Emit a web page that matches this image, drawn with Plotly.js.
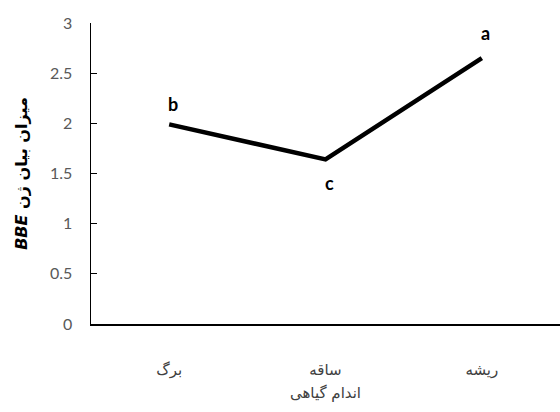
<!DOCTYPE html>
<html>
<head>
<meta charset="utf-8">
<script src="https://cdn.plot.ly/plotly-3.0.1.min.js"></script>
<style>
body{margin:0;padding:0;background:#fff;}
#graph{width:560px;height:412px;}
</style>
</head>
<body>
<div id="graph"></div>
<script>
// données
var organes = ['برگ', 'ساقه', 'ریشه'];
var expression = [1.99, 1.64, 2.65];
var lettres = ['b', 'c', 'a'];
var decalageLettres = [20, -24, 25];// au-dessus (+) ou au-dessous (-) du point
var ticksY = [0, 0.5, 1, 1.5, 2, 2.5, 3];

var data = [{
	x: organes,
	y: expression,
	mode: 'lines',
	line: {color: '#000', width: 4.5},
	hoverinfo: 'none'
}];

// lettres de signification placées sur les points
var annotations = lettres.map(function(l, i) {
	return {
		x: organes[i],
		y: expression[i],
		xref: 'x', yref: 'y',
		text: l,
		showarrow: false,
		xshift: 4,
		yshift: decalageLettres[i],
		font: {family: 'Lato, "Liberation Sans", sans-serif', size: 18, color: '#000', weight: 'bold'}
	};
});

var layout = {
	width: 560,
	height: 412,
	margin: {l: 91, r: 0, t: 23, b: 88},
	paper_bgcolor: '#fff',
	plot_bgcolor: '#fff',
	showlegend: false,
	annotations: annotations,
	xaxis: {
		type: 'category',
		range: [-0.5, 2.5],
		showline: true,
		linecolor: '#000',
		linewidth: 1.5,
		ticks: '',
		showgrid: false,
		zeroline: false,
		tickfont: {family: '"DejaVu Sans", sans-serif', size: 15, color: '#404040'},
		ticklabelstandoff: 31,
		title: {text: 'اندام گیاهی', font: {family: '"DejaVu Sans", sans-serif', size: 15, color: '#404040'}, standoff: 10}
	},
	yaxis: {
		range: [0, 3],
		tickvals: ticksY,
		ticktext: ticksY.map(String),
		showline: true,
		linecolor: '#000',
		linewidth: 1.5,
		ticks: 'inside',
		ticklen: 6,
		tickcolor: '#000',
		showgrid: false,
		zeroline: false,
		tickfont: {family: 'Lato, "Liberation Sans", sans-serif', size: 16, color: '#595959'},
		ticklabelstandoff: 14,
		title: {text: '<i>BBE</i> میزان بیان ژن', font: {family: '"DejaVu Sans", sans-serif', size: 16, color: '#000', weight: 'bold'}, standoff: 18}
	}
};

Plotly.newPlot('graph', data, layout, {displayModeBar: false, staticPlot: true});
</script>
</body>
</html>
